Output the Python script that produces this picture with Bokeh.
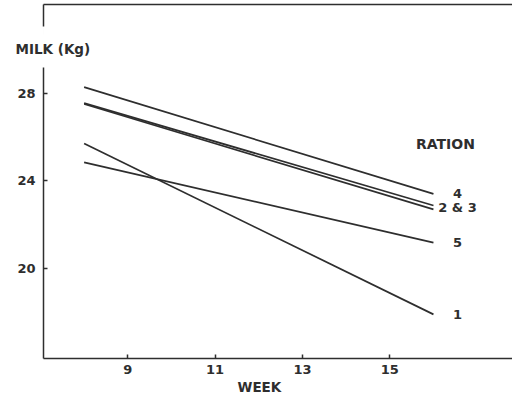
from bokeh.plotting import figure
from bokeh.models import (ColumnDataSource, FixedTicker, Label, LabelSet,
                          Range1d, Title, LinearAxis)
from bokeh.core.properties import value
from bokeh.embed import file_html
from bokeh.resources import INLINE

# ---- data ----
weeks = [8, 16]
ration_1 = [25.70, 17.92]
ration_2 = [27.54, 22.88]
ration_3 = [27.50, 22.70]
ration_4 = [28.27, 23.41]
ration_5 = [24.84, 21.19]

end_labels = ["4", "2 & 3", "5", "1"]
x_ticks = [9, 11, 13, 15]
y_ticks = [20, 24, 28]

# ---- styling ----
INK = "#2e2e2e"
FONT = "DejaVu Sans"
X_START, X_END = 7.07, 17.81
Y_START, Y_END = 15.91, 29.483

p = figure(width=512, height=398, output_backend="svg", toolbar_location=None,
           x_range=Range1d(X_START, X_END), y_range=Range1d(Y_START, Y_END),
           min_border_left=43, min_border_right=0, min_border_top=60,
           min_border_bottom=40)
p.outline_line_color = None
p.grid.visible = False
p.background_fill_color = "white"
p.border_fill_color = "white"

for ys in [ration_1, ration_2, ration_3, ration_4, ration_5]:
    p.line(weeks, ys, line_color=INK, line_width=1.7)

# axes
for ax in (p.xaxis[0], p.yaxis[0]):
    ax.axis_line_color = INK
    ax.axis_line_width = 1.5
    ax.major_tick_line_color = INK
    ax.major_tick_line_width = 1.5
    ax.major_tick_in = 4
    ax.major_tick_out = 0
    ax.minor_tick_line_color = None
    ax.major_label_text_font = FONT
    ax.major_label_text_font_style = "bold"
    ax.major_label_text_font_size = "13px"
    ax.major_label_text_color = INK
p.xaxis.ticker = FixedTicker(ticks=x_ticks)
p.yaxis.ticker = FixedTicker(ticks=y_ticks)
p.xaxis.major_label_standoff = 6
p.yaxis.major_label_standoff = 8
p.yaxis.bounds = (Y_START, 29.16)

# x-axis title, placed under the tick labels
p.add_layout(Title(text="WEEK", align="left", offset=194, standoff=0,
                   text_font=FONT, text_font_style="bold",
                   text_font_size="13.5px", text_color=INK), "below")

# y-axis title above the plot area (nearest the frame)
p.add_layout(Title(text="MILK (Kg)", align="left", offset=-28, standoff=8,
                   text_font=FONT, text_font_style="bold",
                   text_font_size="13.5px", text_color=INK), "above")

# invisible spacer between the title and the page frame line
spacer = LinearAxis(ticker=FixedTicker(ticks=[X_START]), axis_line_color=None,
                    major_tick_line_color=INK, major_tick_line_alpha=0.01,
                    minor_tick_line_color=None,
                    major_tick_out=30, major_tick_in=0,
                    major_label_text_color=None, major_label_standoff=0)
p.add_layout(spacer, "above")

# frame line of the scanned page: a bare axis at the very top
frame_top = LinearAxis(ticker=FixedTicker(ticks=[X_START]),
                       axis_line_color=INK, axis_line_width=1.5,
                       major_tick_line_color=INK, major_tick_line_width=1.5,
                       major_tick_in=22, major_tick_out=0,
                       minor_tick_line_color=None,
                       major_label_text_color=None,
                       major_label_standoff=0)
p.add_layout(frame_top, "above")

# end-of-line labels
end_x = [weeks[-1]] * 4
end_y = [ration_4[-1], (ration_2[-1] + ration_3[-1]) / 2, ration_5[-1],
         ration_1[-1]]
src = ColumnDataSource(dict(x=end_x, y=end_y, t=end_labels))
p.add_layout(LabelSet(x="x", y="y", text="t", source=src, x_offset=24,
                      text_align="center", text_baseline="middle",
                      text_font=value(FONT), text_font_style="bold",
                      text_font_size="13px", text_color=INK))

p.add_layout(Label(x=16.275, y=25.70, text="RATION", text_align="center",
                   text_baseline="middle", text_font=FONT,
                   text_font_style="bold", text_font_size="14px",
                   text_color=INK))

open("out.html", "w").write(file_html(p, INLINE))
